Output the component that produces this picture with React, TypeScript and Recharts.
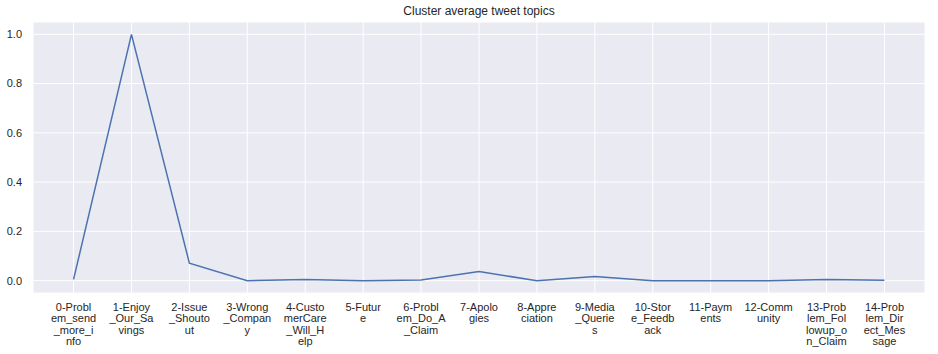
import React from 'react';
import { LineChart, Line, XAxis, YAxis, CartesianGrid } from 'recharts';

const topicLines: string[][] = [
  ['0-Probl', 'em_send', '_more_i', 'nfo'],
  ['1-Enjoy', '_Our_Sa', 'vings'],
  ['2-Issue', '_Shouto', 'ut'],
  ['3-Wrong', '_Compan', 'y'],
  ['4-Custo', 'merCare', '_Will_H', 'elp'],
  ['5-Futur', 'e'],
  ['6-Probl', 'em_Do_A', '_Claim'],
  ['7-Apolo', 'gies'],
  ['8-Appre', 'ciation'],
  ['9-Media', '_Querie', 's'],
  ['10-Stor', 'e_Feedb', 'ack'],
  ['11-Paym', 'ents'],
  ['12-Comm', 'unity'],
  ['13-Prob', 'lem_Fol', 'lowup_o', 'n_Claim'],
  ['14-Prob', 'lem_Dir', 'ect_Mes', 'sage'],
];

const averages: number[] = [
  0.005, 1.0, 0.071, 0.0, 0.005, 0.0, 0.003, 0.037, 0.0, 0.017, 0.0, 0.0, 0.0, 0.005, 0.002,
];

const yTicks = [0, 0.2, 0.4, 0.6, 0.8, 1.0];
const xTicks = topicLines.map((_, i) => i);

const data = averages.map((v, i) => ({ idx: i, avg: v }));

const FONT = '"Liberation Sans", Arial, sans-serif';

const TopicTick = (props: any) => {
  const { x, y, payload } = props;
  const lines = topicLines[payload.value] || [];
  return (
    <text x={x} y={y} textAnchor="middle" fill="#262626" fontSize={11} fontFamily={FONT}>
      {lines.map((l, i) => (
        <tspan key={i} x={x} dy={i === 0 ? 11 : 11.4}>
          {l}
        </tspan>
      ))}
    </text>
  );
};

const App: React.FC = () => {
  return (
    <div style={{ position: 'absolute', left: 0, top: 0, width: 938, height: 354, background: '#fff' }}>
      <div
        style={{
          position: 'absolute',
          left: 33,
          width: 892,
          top: 4,
          textAlign: 'center',
          fontFamily: FONT,
          fontSize: 12,
          color: '#262626',
        }}
      >
        Cluster average tweet topics
      </div>
      <LineChart width={938} height={354} data={data} margin={{ top: 22, right: 13, left: 3, bottom: 0 }}>
        <CartesianGrid fill="#EAEAF2" stroke="#ffffff" strokeWidth={1} />
        <XAxis
          dataKey="idx"
          type="number"
          domain={[-0.7, 14.7]}
          ticks={xTicks}
          interval={0}
          axisLine={false}
          tickLine={false}
          tickSize={0}
          tickMargin={7}
          height={61}
          tick={<TopicTick />}
        />
        <YAxis
          type="number"
          domain={[-0.05, 1.05]}
          ticks={yTicks}
          axisLine={false}
          tickLine={false}
          tickSize={0}
          tickMargin={11}
          width={30}
          tickFormatter={(v: number) => v.toFixed(1)}
          tick={{ fill: '#262626', fontSize: 11, fontFamily: FONT }}
        />
        <Line
          type="linear"
          dataKey="avg"
          stroke="#4C72B0"
          strokeWidth={1.5}
          dot={false}
          activeDot={false}
          isAnimationActive={false}
        />
      </LineChart>
    </div>
  );
};

export default App;
